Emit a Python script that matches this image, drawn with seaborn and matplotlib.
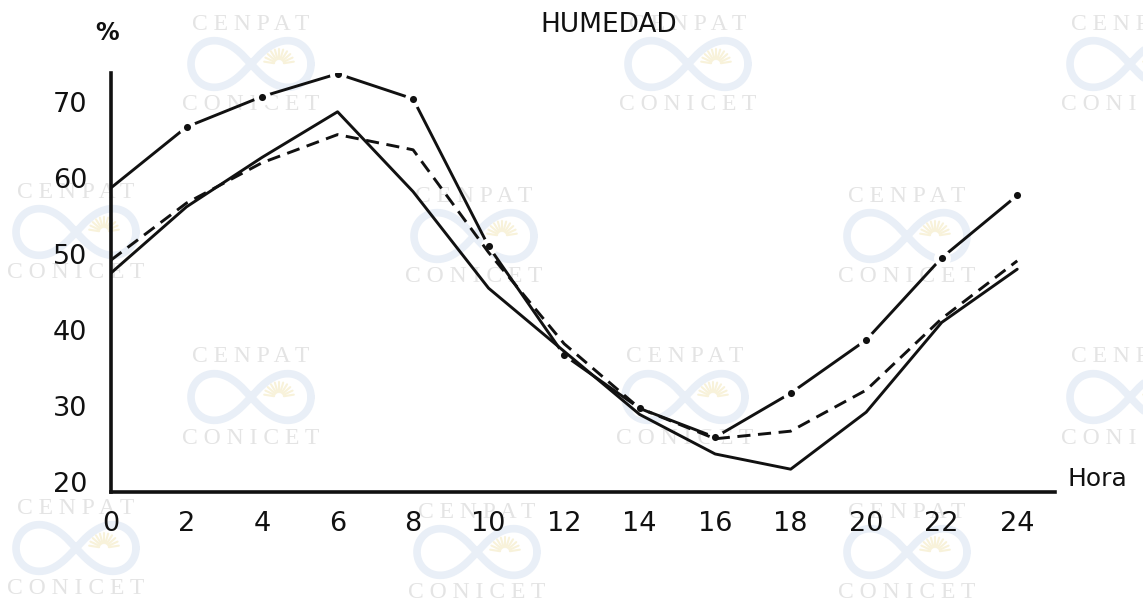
import numpy as np
import pandas as pd
import matplotlib
matplotlib.use("Agg")
import matplotlib.pyplot as plt
from matplotlib.transforms import ScaledTranslation
import seaborn as sns

# Daily cycle of relative humidity (%), three series
hora = [0, 2, 4, 6, 8, 10, 12, 14, 16, 18, 20, 22, 24]
humedad_continua = [48.8, 57.5, 64.0, 70.0, 59.5, 46.8, 38.5, 30.2, 25.0, 23.0, 30.5, 42.3, 49.3]
humedad_guiones = [50.5, 58.0, 63.3, 67.0, 65.0, 51.5, 39.5, 31.0, 27.0, 28.0, 33.4, 42.8, 50.4]
humedad_punto_raya = [60.0, 68.0, 72.0, 75.0, 71.7, 52.3, 38.0, 31.0, 27.2, 33.0, 40.0, 50.8, 59.0]

x_ticks = [0, 2, 4, 6, 8, 10, 12, 14, 16, 18, 20, 22, 24]
y_ticks = [20, 30, 40, 50, 60, 70]

titulo = "HUMEDAD"
unidad = "%"
eje_x = "Hora"

sns.set_style("white")
plt.rcParams["font.family"] = ["DejaVu Sans"]

W, H = 1143, 606
fig = plt.figure(figsize=(W / 100, H / 100), dpi=100)

# ---- institutional watermark layer (pixel coordinates) ----
wm = fig.add_axes([0, 0, 1, 1], zorder=0)
wm.set_xlim(0, W)
wm.set_ylim(H, 0)
wm.axis("off")
wm_centres = [(251, 24), (688, 24), (1130, 24),
              (76, 192), (474, 196), (907, 196),
              (251, 357), (685, 357), (1130, 357),
              (76, 508), (477, 512), (907, 512)]
t = np.linspace(0, 2 * np.pi, 300)
for cx, cy in wm_centres:
    wm.text(cx, cy, "C E N P A T", family="Liberation Serif", fontsize=17,
            color="#e4e4e4", ha="center", va="center")
    wm.text(cx, cy + 81, "C O N I C E T", family="Liberation Serif", fontsize=17,
            color="#e4e4e4", ha="center", va="center")
    a = 60
    lx = cx + a * np.cos(t) / (1 + np.sin(t) ** 2)
    ly = cy + 40 + a * np.sin(t) * np.cos(t) / (1 + np.sin(t) ** 2) * 1.1
    wm.plot(lx, ly, color="#e9eff7", lw=5.5, solid_capstyle="round")
    sx, sy = cx + 28, cy + 40
    for ang in np.linspace(np.pi * 0.05, np.pi * 0.95, 11):
        wm.plot([sx + 5 * np.cos(ang), sx + 15 * np.cos(ang)],
                [sy - 5 * np.sin(ang), sy - 15 * np.sin(ang)],
                color="#f8f2da", lw=1.5)

# ---- main chart ----
ax = fig.add_axes([111 / W, (H - 492) / H, (1055 - 111) / W, (492 - 73) / H], zorder=1)
ax.patch.set_alpha(0)

lw = 2.1
# dash-dot series: continuous strokes broken around dots at each reading
sns.lineplot(x=hora, y=humedad_punto_raya, ax=ax, color="#111111", linewidth=lw,
             zorder=2, legend=False)
sns.scatterplot(x=hora[1:], y=humedad_punto_raya[1:], ax=ax, color="white", s=150,
                linewidth=0, zorder=2.5, legend=False)
sns.lineplot(x=hora, y=humedad_continua, ax=ax, color="#111111", linewidth=lw,
             zorder=3, legend=False)
sns.lineplot(x=hora, y=humedad_guiones, ax=ax, color="#111111", linewidth=lw,
             linestyle=(0, (4.5, 2.6)), zorder=3, legend=False)
sns.scatterplot(x=hora[1:], y=humedad_punto_raya[1:], ax=ax, color="#111111", s=26,
                linewidth=0, zorder=4, legend=False)

ax.set_xlim(0, 25.0)
ax.set_ylim(20, 75.1)
ax.set_xticks(x_ticks)
ax.set_xticklabels([str(v) for v in x_ticks])
ax.set_yticks(y_ticks)
ax.set_yticklabels([str(v) for v in y_ticks])

for side in ("top", "right"):
    ax.spines[side].set_visible(False)
for side in ("left", "bottom"):
    ax.spines[side].set_linewidth(2.6)
    ax.spines[side].set_color("#111111")
    ax.spines[side].set_capstyle("projecting")

ax.tick_params(axis="both", direction="in", length=5, width=1.8, color="#111111",
               labelsize=19.5, labelcolor="#111111")
ax.tick_params(axis="x", pad=14)
ax.tick_params(axis="y", pad=17)
for lab in ax.get_yticklabels():
    lab.set_transform(lab.get_transform() + ScaledTranslation(0, 0.10, fig.dpi_scale_trans))
ax.set_xlabel("")
ax.set_ylabel("")
ax.grid(False)

fig.text(609 / W, 1 - 25 / H, titulo, ha="center", va="center", fontsize=19,
         color="#111111")
fig.text(107 / W, 1 - 33 / H, unidad, ha="center", va="center", fontsize=17,
         fontweight="bold", color="#111111")
fig.text(1068 / W, 1 - 479 / H, eje_x, ha="left", va="center", fontsize=18,
         color="#111111")

fig.savefig("out.png", dpi=100, facecolor="white")
